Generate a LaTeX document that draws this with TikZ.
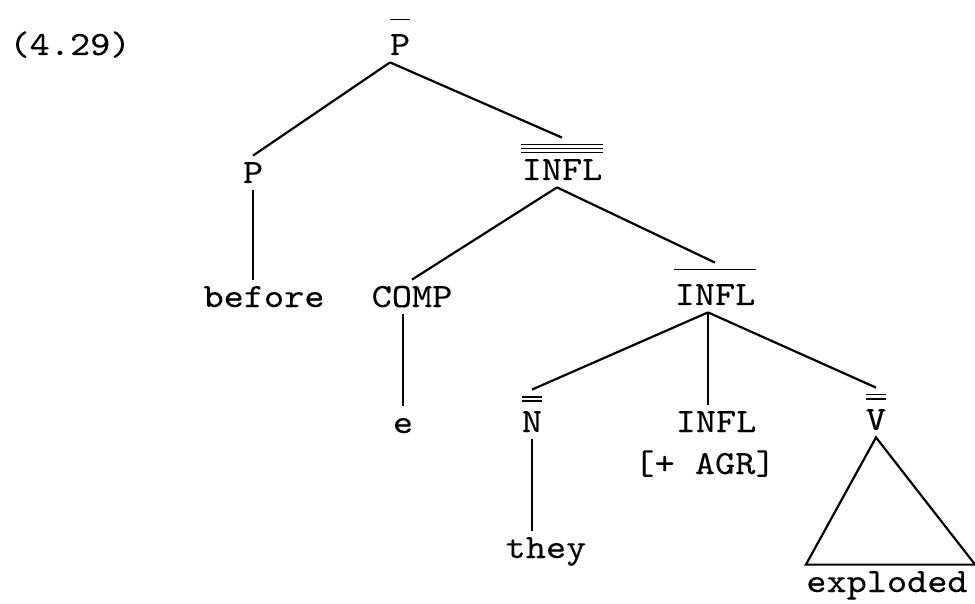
\documentclass[tikz,border=0pt]{standalone}
\usepackage{fontspec}
\newfontfamily\treefont{lmmono10-regular.otf}[FakeStretch=1.13, FakeBold=0.2]
\tikzset{
  cat/.style={font=\treefont\fontsize{17}{20}\selectfont, anchor=base,
    inner xsep=0pt, inner ysep=3.5pt, text height=10pt, text depth=0pt},
  barred/.style={cat, text height=17.5pt},
  branch/.style={line width=1.1pt},
  bar/.style={line width=0.9pt},
}
\begin{document}
\begin{tikzpicture}[x=0.5pt,y=-0.5pt]
\useasboundingbox (0,0) rectangle (975,604);
\node[cat] (num) at (70,55) {(4.29)};

% categories
\node[barred] (pbar) at (400,55) {P};
\node[cat] (p) at (253,183) {P};
\node[barred] (inflc) at (562,180) {INFL};
\node[cat] (comp) at (412,307) {COMP};
\node[barred] (inflb) at (715,305) {INFL};
\node[barred] (n) at (532,432) {N};
\node[cat] (infl) at (716,432) {INFL};
\node[cat] (agr) at (705,474) {[+ AGR]};
\node[barred] (v) at (876,430) {V};

% words
\node[cat] (before) at (264,307) {before};
\node[cat] (e) at (403,433) {e};
\node[cat] (they) at (546,558) {they};
\node[cat] (exploded) at (887,592) {exploded};

% bars over the labels
\foreach \n/\k in {pbar/1, inflc/3, inflb/1, n/2, v/2}
  \foreach \i in {1,...,\k}
    \draw[bar] ([yshift=-1.5pt-2pt*\i]\n.north west) -- ([yshift=-1.5pt-2pt*\i]\n.north east);

% branches
\coordinate (pbar-a) at ([xshift=-5pt]pbar.south);
\coordinate (inflc-a) at ([xshift=-2.5pt]inflc.south);
\coordinate (inflb-a) at ([xshift=-3.5pt]inflb.south);
\draw[branch] (pbar-a) -- (p.north);
\draw[branch] (pbar-a) -- (inflc.north);
\draw[branch] (p.south) -- (p.south |- before.north);
\draw[branch] (inflc-a) -- (comp.north);
\draw[branch] (inflc-a) -- (inflb.north);
\draw[branch] (comp.south -| e.north) -- (e.north);
\draw[branch] (inflb-a) -- (n.north);
\draw[branch] (inflb-a) -- (inflb-a |- infl.north);
\draw[branch] (inflb-a) -- (v.north);
\draw[branch] (n.south) -- (n.south |- they.north);
\draw[branch] (v.south) -- ([xshift=3.5pt]exploded.north east) -- (exploded.north west) -- cycle;
\end{tikzpicture}
\end{document}
